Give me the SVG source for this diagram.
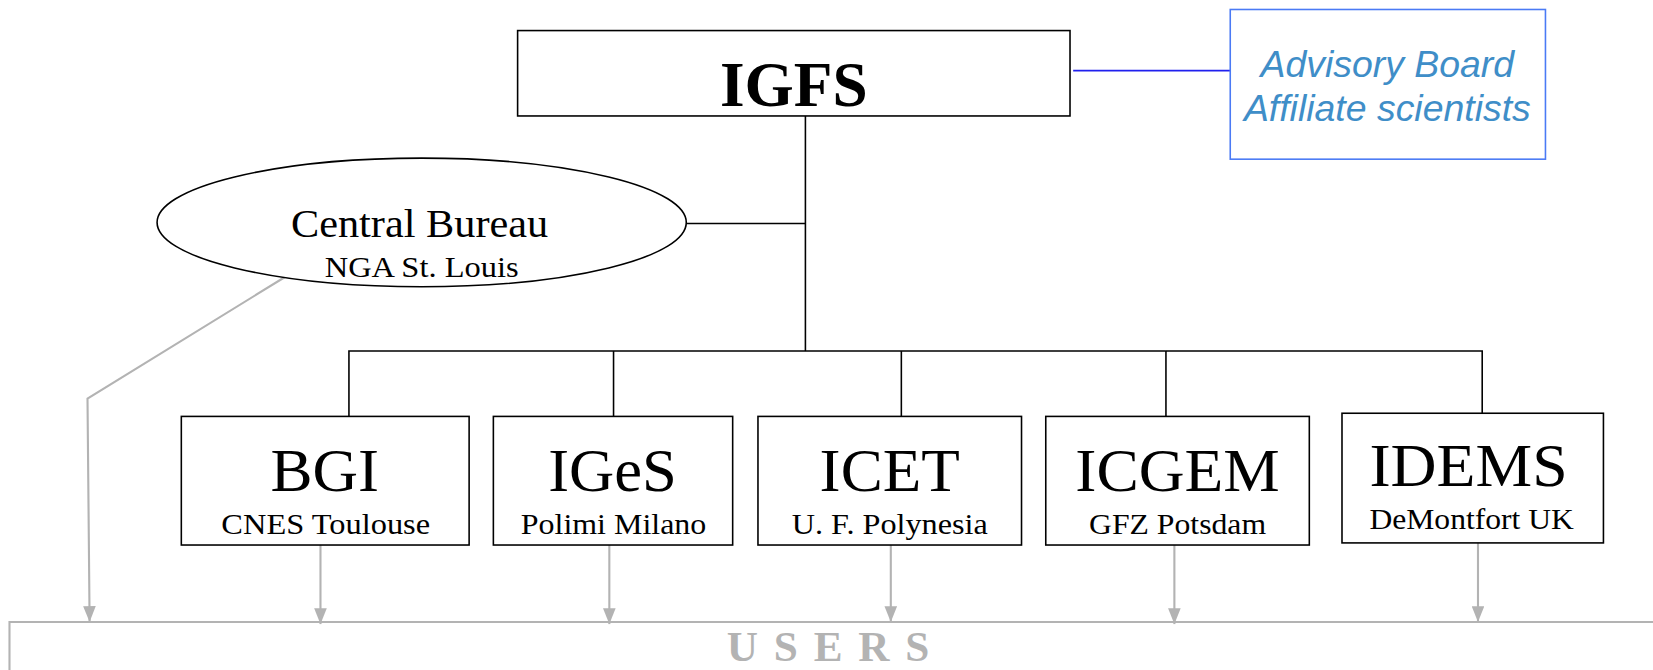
<svg xmlns="http://www.w3.org/2000/svg" width="1653" height="670" viewBox="0 0 1653 670">
<style>
.box{fill:#fff;stroke:#000;stroke-width:1.5}
.ser{font-family:"Liberation Serif","DejaVu Serif",serif;fill:#000;text-anchor:middle}
.t{font-size:58px}
.s{font-size:27px}
.blk{stroke:#000;stroke-width:1.5;fill:none}
.gr{stroke:#b3b3b3;stroke-width:2;fill:none}
</style>
<defs>
<marker id="ah" markerWidth="15" markerHeight="12" refX="15" refY="6" orient="auto" markerUnits="userSpaceOnUse" viewBox="0 0 15 12">
<path d="M0,0 L15,6 L0,12 Z" fill="#b3b3b3"/>
</marker>
</defs>
<rect width="1653" height="670" fill="#fff"/>
<g transform="scale(1.0542)">
<g id="connectors">
<line x1="1018" y1="67" x2="1167" y2="67" stroke="#2020ee" stroke-width="1.5"/>
<line class="blk" x1="764" y1="110" x2="764" y2="333"/>
<line class="blk" x1="651" y1="212" x2="764" y2="212"/>
<polyline class="blk" points="331,395 331,333 1106,333"/>
<polyline class="blk" points="1106,333 1406,333 1406,392"/>
<line class="blk" x1="582" y1="333" x2="582" y2="395"/>
<line class="blk" x1="855" y1="333" x2="855" y2="395"/>
<line class="blk" x1="1106" y1="333" x2="1106" y2="395"/>
<polyline class="gr" points="270,263 83,378 85,590" marker-end="url(#ah)"/>
<line class="gr" x1="304" y1="517" x2="304" y2="592" marker-end="url(#ah)"/>
<line class="gr" x1="578" y1="517" x2="578" y2="592" marker-end="url(#ah)"/>
<line class="gr" x1="845" y1="517" x2="845" y2="590" marker-end="url(#ah)"/>
<line class="gr" x1="1114" y1="517" x2="1114" y2="592" marker-end="url(#ah)"/>
<line class="gr" x1="1402" y1="515" x2="1402" y2="590" marker-end="url(#ah)"/>
</g>
<g id="igfs">
<rect class="box" x="491" y="29" width="524" height="81"/>
<text class="ser" x="753" y="101" font-size="60" font-weight="bold">IGFS</text>
</g>
<g id="advisory">
<rect x="1167" y="9" width="299" height="142" fill="#fff" stroke="#4a7af5" stroke-width="1.5"/>
<text x="1316" y="73" font-family="Liberation Sans,Arial,sans-serif" font-style="italic" font-size="35.5" fill="#3f8ec8" text-anchor="middle">Advisory Board</text>
<text x="1316" y="115" font-family="Liberation Sans,Arial,sans-serif" font-style="italic" font-size="35.5" fill="#3f8ec8" text-anchor="middle">Affiliate scientists</text>
</g>
<g id="central-bureau">
<ellipse cx="400" cy="211" rx="251" ry="61" fill="#fff" stroke="#000" stroke-width="1.5"/>
<text class="ser" x="398" y="225" font-size="38" textLength="244" lengthAdjust="spacingAndGlyphs">Central Bureau</text>
<text class="ser" x="400" y="263" font-size="28" textLength="184" lengthAdjust="spacingAndGlyphs">NGA St. Louis</text>
</g>
<g id="bgi">
<rect class="box" x="172" y="395" width="273" height="122"/>
<text class="ser t" x="308" y="466" textLength="103" lengthAdjust="spacingAndGlyphs">BGI</text>
<text class="ser s" x="309" y="507" textLength="198" lengthAdjust="spacingAndGlyphs">CNES Toulouse</text>
</g>
<g id="iges">
<rect class="box" x="468" y="395" width="227" height="122"/>
<text class="ser t" x="581" y="466" textLength="122" lengthAdjust="spacingAndGlyphs">IGeS</text>
<text class="ser s" x="582" y="507" textLength="176" lengthAdjust="spacingAndGlyphs">Polimi Milano</text>
</g>
<g id="icet">
<rect class="box" x="719" y="395" width="250" height="122"/>
<text class="ser t" x="844" y="466" textLength="133" lengthAdjust="spacingAndGlyphs">ICET</text>
<text class="ser s" x="844" y="507" textLength="186" lengthAdjust="spacingAndGlyphs">U. F. Polynesia</text>
</g>
<g id="icgem">
<rect class="box" x="992" y="395" width="250" height="122"/>
<text class="ser t" x="1117" y="466" textLength="194" lengthAdjust="spacingAndGlyphs">ICGEM</text>
<text class="ser s" x="1117" y="507" textLength="168" lengthAdjust="spacingAndGlyphs">GFZ Potsdam</text>
</g>
<g id="idems">
<rect class="box" x="1273" y="392" width="248" height="123"/>
<text class="ser t" x="1393" y="461" textLength="188" lengthAdjust="spacingAndGlyphs">IDEMS</text>
<text class="ser s" x="1396" y="502" textLength="194" lengthAdjust="spacingAndGlyphs">DeMontfort UK</text>
</g>
<g id="users">
<polyline points="9,640 9,590 1653,590" fill="none" stroke="#b3b3b3" stroke-width="2"/>
<text class="ser" x="793" y="627" font-size="41" font-weight="bold" style="fill:#b3b3b3" letter-spacing="15">USERS</text>
</g>
</g>
</svg>
